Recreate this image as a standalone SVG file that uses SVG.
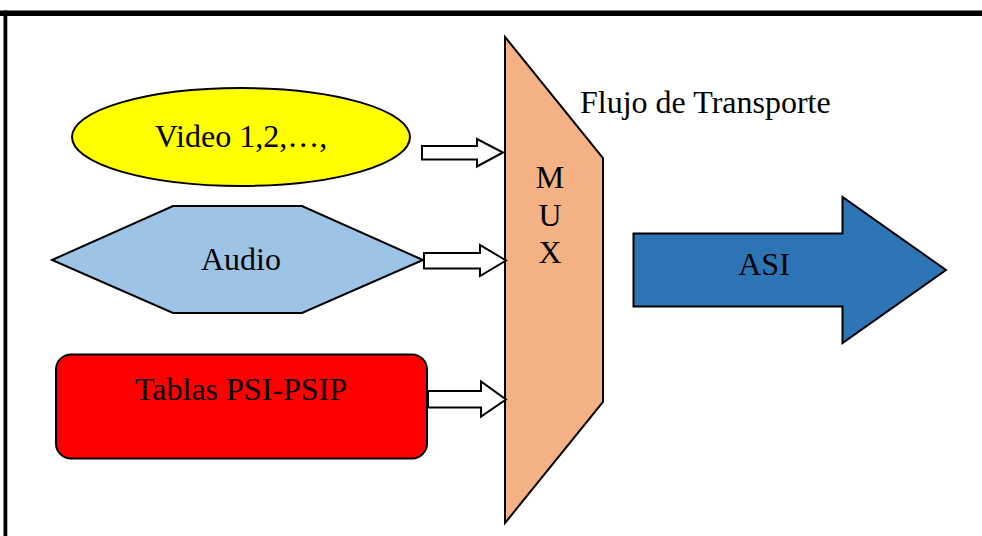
<svg xmlns="http://www.w3.org/2000/svg" width="982" height="536" viewBox="0 0 982 536">
<style>
.t{font-family:"Liberation Serif","Times New Roman",serif;font-size:32px;fill:#000}
.s{stroke:#000;stroke-width:2;stroke-linejoin:miter}
.a{fill:#fff;stroke:#000;stroke-width:2}
</style>
<rect width="982" height="536" fill="#fff"/>
<g id="frame">
<line x1="0" y1="13.3" x2="982" y2="13.3" stroke="#000" stroke-width="5.4"/>
<line x1="5.4" y1="10.6" x2="5.4" y2="536" stroke="#000" stroke-width="3.8"/>
</g>
<g id="mux">
<polygon class="s" fill="#F4B183" points="505,37 603,158 603,402 505,523"/>
<text class="t" x="550" y="188" text-anchor="middle">M</text>
<text class="t" x="550" y="226" text-anchor="middle">U</text>
<text class="t" x="550" y="263" text-anchor="middle">X</text>
</g>
<g id="flujo">
<text class="t" x="580" y="113">Flujo de Transporte</text>
</g>
<g id="video">
<ellipse class="s" fill="#FFFF00" cx="241" cy="137" rx="169" ry="49"/>
<text class="t" x="241" y="147" text-anchor="middle">Video 1,2,…,</text>
</g>
<g id="audio">
<polygon class="s" fill="#9DC3E6" points="52,260 173,206 302,206 423,260 302,313 173,313"/>
<text class="t" x="241" y="270" text-anchor="middle">Audio</text>
</g>
<g id="tablas">
<rect class="s" fill="#FF0000" x="56" y="354.5" width="371" height="104" rx="15" ry="15"/>
<text class="t" x="241" y="400" text-anchor="middle">Tablas PSI-PSIP</text>
</g>
<g id="asi">
<polygon class="s" fill="#2E75B6" points="633.5,233.5 842.5,233.5 842.5,197 946,270 842.5,343 842.5,306.5 633.5,306.5"/>
<text class="t" x="764" y="275" text-anchor="middle">ASI</text>
</g>
<g id="connectors">
<polygon class="a" points="422,146 477,146 477,139 503,152.5 477,166.5 477,159.5 422,159.5"/>
<polygon class="a" points="424,253 480,253 480,245 506,260.5 480,276 480,268.5 424,268.5"/>
<polygon class="a" points="428,391 481,391 481,381.5 506,399.5 481,416.5 481,407.5 428,407.5"/>
</g>
</svg>
